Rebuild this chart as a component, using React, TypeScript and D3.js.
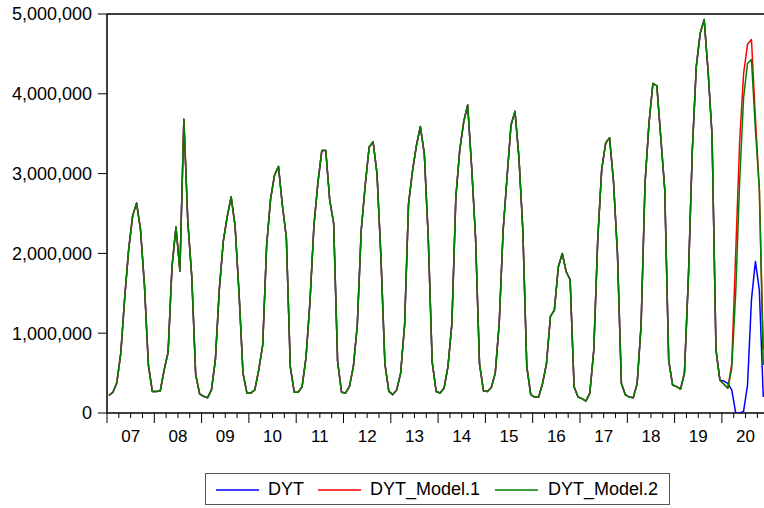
import React from "react";
import * as d3 from "d3";

const years = ["07","08","09","10","11","12","13","14","15","16","17","18","19","20"];
const yTicks = [0, 1000000, 2000000, 3000000, 4000000, 5000000];
const seriesNames = ["DYT", "DYT_Model.1", "DYT_Model.2"];
const seriesColors = ["#0000ff", "#ff0000", "#008000"];

// 2007M01 - 2019M12, common to all three series
const history = [
  220000, 260000, 380000, 750000, 1450000, 2050000, 2470000, 2630000, 2300000, 1600000, 600000, 270000,
  270000, 275000, 540000, 760000, 1840000, 2330000, 1780000, 3680000, 2400000, 1710000, 480000, 240000,
  210000, 190000, 290000, 670000, 1550000, 2150000, 2460000, 2710000, 2340000, 1500000, 500000, 250000,
  250000, 290000, 540000, 850000, 2100000, 2680000, 2980000, 3090000, 2600000, 2200000, 580000, 260000,
  260000, 330000, 700000, 1400000, 2350000, 2880000, 3290000, 3290000, 2670000, 2380000, 650000, 260000,
  250000, 330000, 580000, 1100000, 2290000, 2850000, 3330000, 3400000, 3000000, 1950000, 620000, 270000,
  230000, 290000, 500000, 1100000, 2620000, 3030000, 3350000, 3590000, 3250000, 2200000, 640000, 270000,
  250000, 310000, 580000, 1120000, 2700000, 3300000, 3650000, 3860000, 3090000, 2200000, 620000, 280000,
  270000, 320000, 500000, 1120000, 2290000, 2960000, 3610000, 3780000, 3210000, 2290000, 580000, 230000,
  200000, 200000, 370000, 620000, 1210000, 1290000, 1830000, 2000000, 1770000, 1670000, 330000, 200000,
  180000, 150000, 250000, 790000, 2170000, 3050000, 3380000, 3450000, 2900000, 2000000, 370000, 230000,
  200000, 190000, 370000, 1100000, 2880000, 3630000, 4130000, 4100000, 3450000, 2800000, 660000, 350000,
  330000, 300000, 500000, 1700000, 3300000, 4340000, 4760000, 4930000, 4280000, 3480000, 790000, 410000,
];

// 2020M01 - 2020M11
const dyt2020 = [400000, 370000, 290000, 0, 0, 20000, 350000, 1420000, 1900000, 1540000, 200000];
const model1_2020 = [360000, 310000, 620000, 2000000, 3400000, 4250000, 4620000, 4680000, 3700000, 2800000, 800000];
const model2_2020 = [360000, 310000, 560000, 1500000, 2900000, 3950000, 4380000, 4430000, 3550000, 2800000, 600000];

const W = 764, H = 508;
const left = 107, top = 14, bottom = 413;
const monthW = 47.3 / 12;
const right = left + years.length * 12 * monthW;
const font = "'Liberation Sans', Arial, sans-serif";

export default function App() {
  const x = d3.scaleLinear().domain([0, years.length * 12]).range([left, right]);
  const y = d3.scaleLinear().domain([0, 5000000]).range([bottom, top]);
  const series = [
    history.concat(dyt2020),
    history.concat(model1_2020),
    history.concat(model2_2020),
  ];
  const line = d3.line<number>().x((_, i) => x(i + 0.5)).y((d) => y(d));
  const fmt = d3.format(",");
  const quarterTicks = d3.range(0, years.length * 12 + 1, 3);

  const legendX = [216, 318, 495];
  const legendTextX = [268, 370, 548];

  return (
    <svg width={W} height={H} style={{ position: "absolute", left: 0, top: 0, background: "#fff" }} fontFamily={font}>
      <rect x={0} y={0} width={W} height={H} fill="#fff" />
      <defs>
        <clipPath id="plot">
          <rect x={left} y={top} width={right - left} height={bottom - top} />
        </clipPath>
      </defs>
      {/* frame */}
      <line x1={left} x2={right} y1={top} y2={top} stroke="#000" strokeWidth={1.5} />
      <line x1={left} x2={left} y1={top} y2={bottom} stroke="#000" strokeWidth={1.5} />
      <line x1={left} x2={right} y1={bottom} y2={bottom} stroke="#000" strokeWidth={1.5} />
      {/* y axis */}
      {yTicks.map((t) => (
        <g key={t}>
          <line x1={left - 9} x2={left} y1={y(t)} y2={y(t)} stroke="#000" strokeWidth={1} />
          <text x={92} y={y(t)} dy="0.36em" textAnchor="end" fontSize={18} fill="#000">{fmt(t)}</text>
        </g>
      ))}
      {/* x axis */}
      {quarterTicks.map((m) => (
        <line key={m} x1={x(m)} x2={x(m)} y1={bottom} y2={bottom + (m % 12 === 0 ? 10 : 5)} stroke="#000" strokeWidth={1} />
      ))}
      {years.map((yr, i) => (
        <text key={yr} x={x(i * 12 + 6)} y={442} textAnchor="middle" fontSize={17} fill="#000">{yr}</text>
      ))}
      {/* series */}
      <g clipPath="url(#plot)">
        {series.map((s, k) => (
          <path key={k} d={line(s) || ""} fill="none" stroke={seriesColors[k]} strokeWidth={1.5} strokeLinejoin="round" />
        ))}
      </g>
      {/* legend */}
      <rect x={205.5} y={473.5} width={464} height={31} fill="#fff" stroke="#555" strokeWidth={1} />
      {seriesNames.map((n, k) => (
        <g key={n}>
          <line x1={legendX[k]} x2={legendX[k] + 43} y1={490} y2={490} stroke={seriesColors[k]} strokeWidth={1.5} />
          <text x={legendTextX[k]} y={495} fontSize={18} fill="#000">{n}</text>
        </g>
      ))}
    </svg>
  );
}
